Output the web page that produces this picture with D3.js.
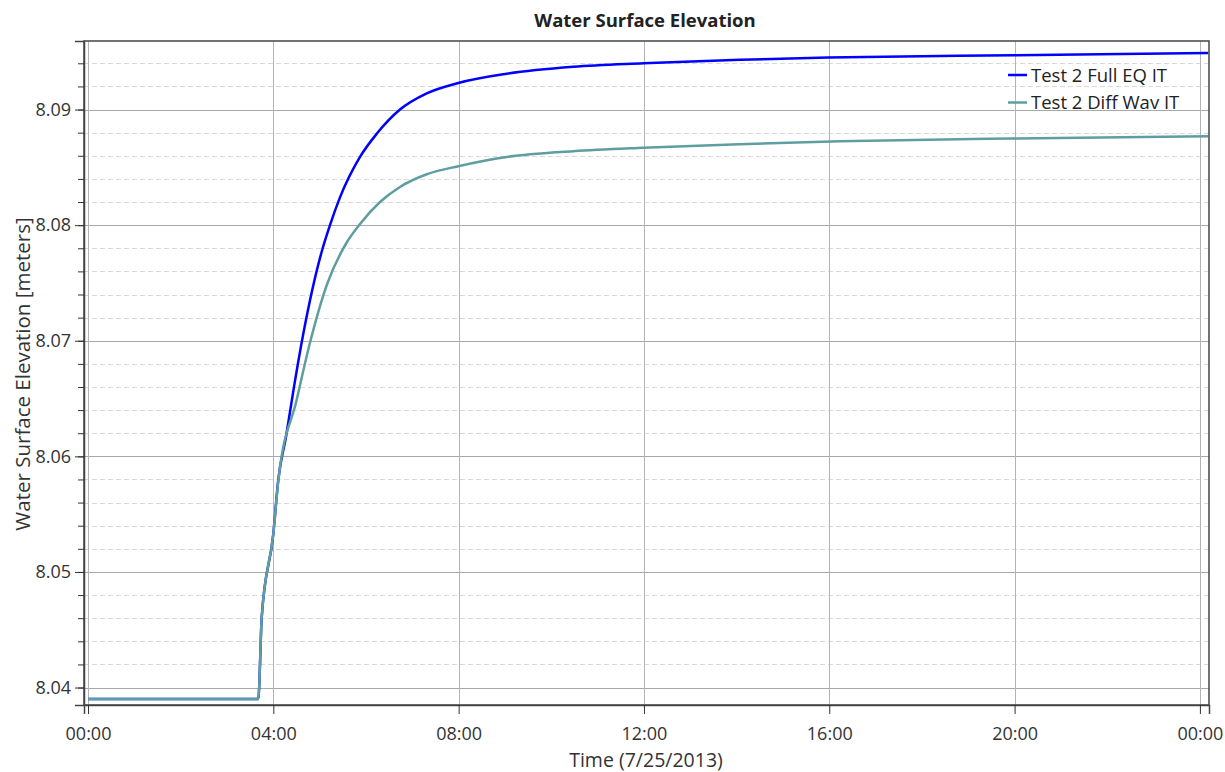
<!DOCTYPE html>
<html><head><meta charset="utf-8">
<script src="https://cdn.jsdelivr.net/npm/d3@7"></script>
<style>body{margin:0;background:#fff}svg{display:block}</style>
</head><body><svg id="c" width="1225" height="772"></svg>
<script>
// ---- data (hours after 7/25/2013 00:00, water surface elevation in meters)
const seriesNames = ["Test 2 Full EQ IT", "Test 2 Diff Wav IT"];
const fullHours = [0, 3.675, 3.75, 4.0, 4.108, 4.274, 4.45, 4.647, 5.044, 5.223, 5.439, 5.871, 6.231, 6.734, 7.311, 7.993, 9.037, 10.475, 11.986, 14.073, 15.979, 19.972, 24.18];
const fullValues = [8.0390, 8.0390, 8.0461, 8.0533, 8.0580, 8.0617, 8.0661, 8.0706, 8.0777, 8.0800, 8.0824, 8.0859, 8.0879, 8.0900, 8.0914, 8.0923, 8.0931, 8.0937, 8.0940, 8.0943, 8.0945, 8.0947, 8.0949];
const diffHours = [0, 3.675, 3.75, 4.0, 4.108, 4.505, 4.79, 5.152, 5.584, 5.871, 6.303, 6.734, 7.311, 7.993, 9.037, 10.475, 11.986, 14.073, 16.23, 19.972, 24.18];
const diffValues = [8.0390, 8.0390, 8.0461, 8.0533, 8.0579, 8.0649, 8.0698, 8.0748, 8.0785, 8.0801, 8.0820, 8.0833, 8.0844, 8.0851, 8.0859, 8.0864, 8.0867, 8.0870, 8.08725, 8.0875, 8.08768];
const xTickHours = [0, 4, 8, 12, 16, 20, 24];
const yMajorTicks = [8.04, 8.05, 8.06, 8.07, 8.08, 8.09];
const yMinorTicks = d3.range(8.038, 8.0961, 0.002).map(v => +v.toFixed(3));
const colors = ["#0000ff", "#5f9ea0"];

const base = new Date(2013, 6, 25, 0, 0);
const toDate = h => new Date(base.getTime() + h * 3600000);

const svg = d3.select("#c");
const L = 84, R = 1209, T = 41, B = 705;
const x = d3.scaleTime().domain([toDate(-0.0863), toDate(24.196)]).range([L, R]);
const y = d3.scaleLinear().domain([8.03849, 8.09593]).range([B, T]);
const font = "'Open Sans', 'Noto Sans', sans-serif";

const g = svg.append("g");
// minor grid (dashed)
g.selectAll(".ymin").data(yMinorTicks.filter(v => !yMajorTicks.some(m => Math.abs(m - v) < 1e-6) && y(v) > T && y(v) < B))
  .join("line").attr("x1", L).attr("x2", R).attr("y1", d => Math.round(y(d)) + 0.5).attr("y2", d => Math.round(y(d)) + 0.5)
  .attr("stroke", "#d9d9d9").attr("stroke-dasharray", "5,3");
// major grid
g.selectAll(".ymaj").data(yMajorTicks).join("line").attr("x1", L).attr("x2", R)
  .attr("y1", d => Math.round(y(d)) + 0.5).attr("y2", d => Math.round(y(d)) + 0.5).attr("stroke", "#a8a8a8");
g.selectAll(".xmaj").data(xTickHours).join("line")
  .attr("x1", d => Math.round(x(toDate(d))) + 0.5).attr("x2", d => Math.round(x(toDate(d))) + 0.5)
  .attr("y1", T).attr("y2", B).attr("stroke", "#b4b4b4");

// lines
const line = d3.line().x(d => x(toDate(d[0]))).y(d => y(d[1])).curve(d3.curveMonotoneX);
const fullData = fullHours.map((h, i) => [h, fullValues[i]]);
const diffData = diffHours.map((h, i) => [h, diffValues[i]]);
svg.append("path").datum(fullData).attr("d", line).attr("fill", "none").attr("stroke", colors[0]).attr("stroke-width", 2.5);
svg.append("path").datum(diffData).attr("d", line).attr("fill", "none").attr("stroke", colors[1]).attr("stroke-width", 2.5);

// frame
svg.append("rect").attr("x", L).attr("y", T).attr("width", R - L).attr("height", B - T)
  .attr("fill", "none").attr("stroke", "#444").attr("stroke-width", 1.5);

// axes
svg.append("g").attr("transform", `translate(${L},0)`)
  .call(d3.axisLeft(y).tickValues(yMajorTicks).tickFormat(d3.format(".2f")).tickSize(9).tickPadding(4));
svg.append("g").attr("transform", `translate(${L},0)`)
  .call(d3.axisLeft(y).tickValues(yMinorTicks.filter(v => y(v) > T && y(v) < B)).tickFormat("").tickSize(6))
  .call(s => s.select(".domain").remove());
svg.append("g").attr("transform", `translate(0,${B})`)
  .call(d3.axisBottom(x).tickValues(xTickHours.map(toDate)).tickFormat(d3.timeFormat("%H:%M")).tickSize(9).tickPadding(13));
svg.selectAll(".tick line").attr("stroke", "#333");
svg.selectAll(".domain").attr("stroke", "#444").attr("stroke-width", 1.5);
svg.selectAll(".tick text").attr("font-family", font).attr("font-size", 18).attr("fill", "#333");

// titles
svg.append("text").attr("x", 645).attr("y", 27).attr("text-anchor", "middle").attr("font-family", font)
  .attr("font-weight", "bold").attr("font-size", 18.5).attr("fill", "#222").text("Water Surface Elevation");
svg.append("text").attr("x", 646).attr("y", 767).attr("text-anchor", "middle").attr("font-family", font)
  .attr("font-size", 19.5).attr("fill", "#333").text("Time (7/25/2013)");
svg.append("text").attr("transform", "translate(30,374) rotate(-90)").attr("text-anchor", "middle").attr("font-family", font)
  .attr("font-size", 20.5).attr("fill", "#333").text("Water Surface Elevation [meters]");

// legend
const leg = svg.append("g").attr("transform", "translate(1008,75)");
seriesNames.forEach((n, i) => {
  const r = leg.append("g").attr("transform", `translate(0,${i * 27.5})`);
  r.append("line").attr("x1", 0).attr("x2", 19).attr("stroke", colors[i]).attr("stroke-width", 2.5);
  r.append("text").attr("x", 23).attr("y", 6.5).attr("font-family", font).attr("font-size", 18.5).attr("fill", "#222").text(n);
});
</script></body></html>
